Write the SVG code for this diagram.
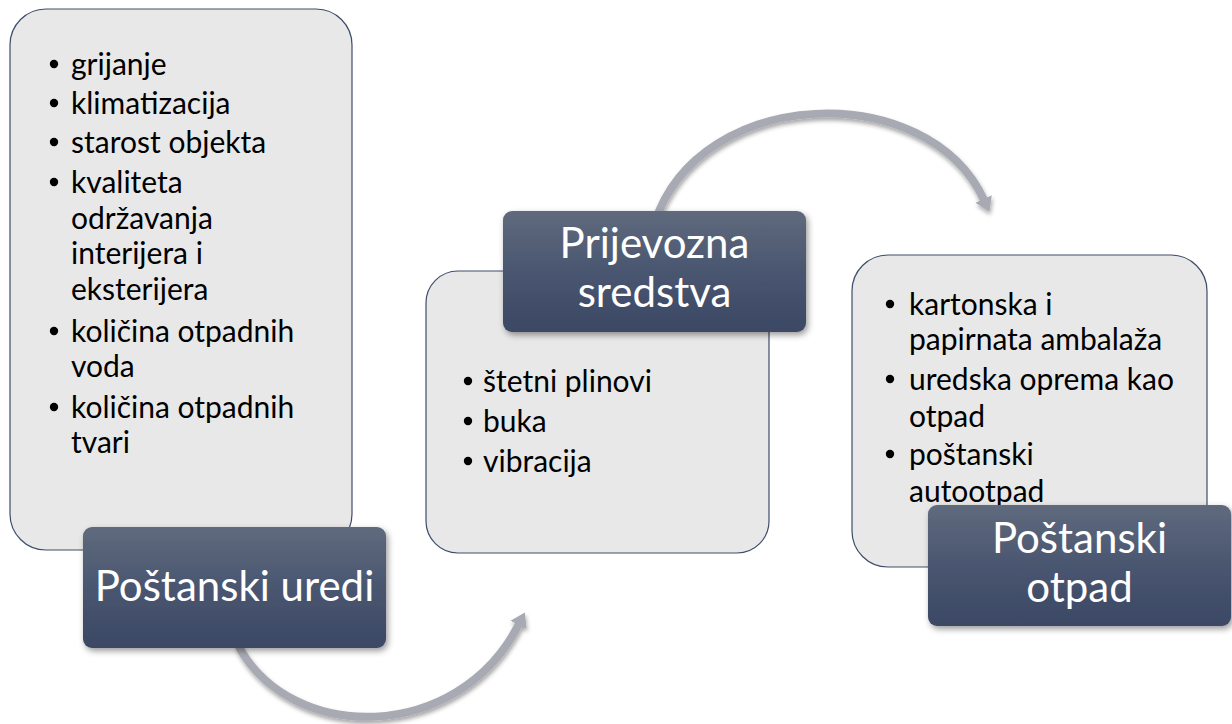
<svg xmlns="http://www.w3.org/2000/svg" width="1232" height="724" viewBox="0 0 1232 724">
<style>
.box{fill:#e8e8e8;stroke:#3e4d69;stroke-width:1.2}
.lab{fill:url(#dg);filter:url(#sh)}
.bt{font-family:Lato,"Open Sans","Liberation Sans",sans-serif;font-size:30px;fill:#000}
.lt{font-family:Lato,"Open Sans","Liberation Sans",sans-serif;font-size:42px;fill:#fff;text-anchor:middle}
.arr{fill:none;stroke:#a7aab2;stroke-width:8;marker-end:url(#ah);filter:url(#ash)}
.dot{fill:#000}
</style>
<defs>
<linearGradient id="dg" x1="0" y1="0" x2="0" y2="1">
<stop offset="0" stop-color="#5f6a7d"/>
<stop offset="0.5" stop-color="#4a5670"/>
<stop offset="1" stop-color="#3b4864"/>
</linearGradient>
<filter id="sh" x="-10%" y="-10%" width="125%" height="130%">
<feDropShadow dx="2" dy="3" stdDeviation="3" flood-color="#000" flood-opacity="0.4"/>
</filter>
<filter id="ash" x="-10%" y="-20%" width="125%" height="140%">
<feDropShadow dx="1" dy="3" stdDeviation="2" flood-color="#000" flood-opacity="0.35"/>
</filter>
<marker id="ah" markerUnits="userSpaceOnUse" markerWidth="14" markerHeight="20" viewBox="0 0 14 20" refX="1" refY="10" orient="auto">
<path d="M0,1 L14,10 L0,19 z" fill="#a7aab2"/>
</marker>
</defs>
<g id="connectors">
<path class="arr" d="M238,645 C290,744 458,744 519,624"/>
<path class="arr" d="M655,222 C700,85 928,78 984,200"/>
</g>
<g id="node-postanski-uredi-list">
<rect class="box" x="10" y="9" width="342" height="541" rx="36"/>
<g class="bt">
<circle class="dot" cx="54" cy="64" r="4.2"/><text x="71" y="75">grijanje</text>
<circle class="dot" cx="54" cy="103" r="4.2"/><text x="71" y="114">klimatizacija</text>
<circle class="dot" cx="54" cy="142" r="4.2"/><text x="71" y="153">starost objekta</text>
<circle class="dot" cx="54" cy="182" r="4.2"/><text x="71" y="193">kvaliteta</text>
<text x="71" y="229">održavanja</text>
<text x="71" y="264">interijera i</text>
<text x="71" y="300">eksterijera</text>
<circle class="dot" cx="54" cy="331" r="4.2"/><text x="71" y="342">količina otpadnih</text>
<text x="71" y="377">voda</text>
<circle class="dot" cx="54" cy="407" r="4.2"/><text x="71" y="418">količina otpadnih</text>
<text x="71" y="453">tvari</text>
</g>
</g>
<g id="node-postanski-uredi">
<rect class="lab" x="83" y="527" width="303" height="121" rx="9"/>
<text class="lt" x="234.5" y="601">Poštanski uredi</text>
</g>
<g id="node-prijevozna-list">
<rect class="box" x="426" y="271" width="343" height="282" rx="32"/>
<g class="bt">
<circle class="dot" cx="468" cy="381" r="4.2"/><text x="483" y="392">štetni plinovi</text>
<circle class="dot" cx="468" cy="421" r="4.2"/><text x="483" y="432">buka</text>
<circle class="dot" cx="468" cy="461" r="4.2"/><text x="483" y="472">vibracija</text>
</g>
</g>
<g id="node-prijevozna-sredstva">
<rect class="lab" x="503" y="211" width="303" height="121" rx="9"/>
<text class="lt" x="654.5" y="258">Prijevozna</text>
<text class="lt" x="654.5" y="307">sredstva</text>
</g>
<g id="node-postanski-otpad-list">
<rect class="box" x="852" y="255" width="355" height="312" rx="36"/>
<g class="bt">
<circle class="dot" cx="890" cy="304" r="4.2"/><text x="909" y="315">kartonska i</text>
<text x="909" y="350">papirnata ambalaža</text>
<circle class="dot" cx="890" cy="379" r="4.2"/><text x="909" y="390">uredska oprema kao</text>
<text x="909" y="427">otpad</text>
<circle class="dot" cx="890" cy="454" r="4.2"/><text x="909" y="465">poštanski</text>
<text x="909" y="502">autootpad</text>
</g>
</g>
<g id="node-postanski-otpad">
<rect class="lab" x="928" y="505" width="303" height="121" rx="9"/>
<text class="lt" x="1079.5" y="553">Poštanski</text>
<text class="lt" x="1079.5" y="602">otpad</text>
</g>
</svg>
